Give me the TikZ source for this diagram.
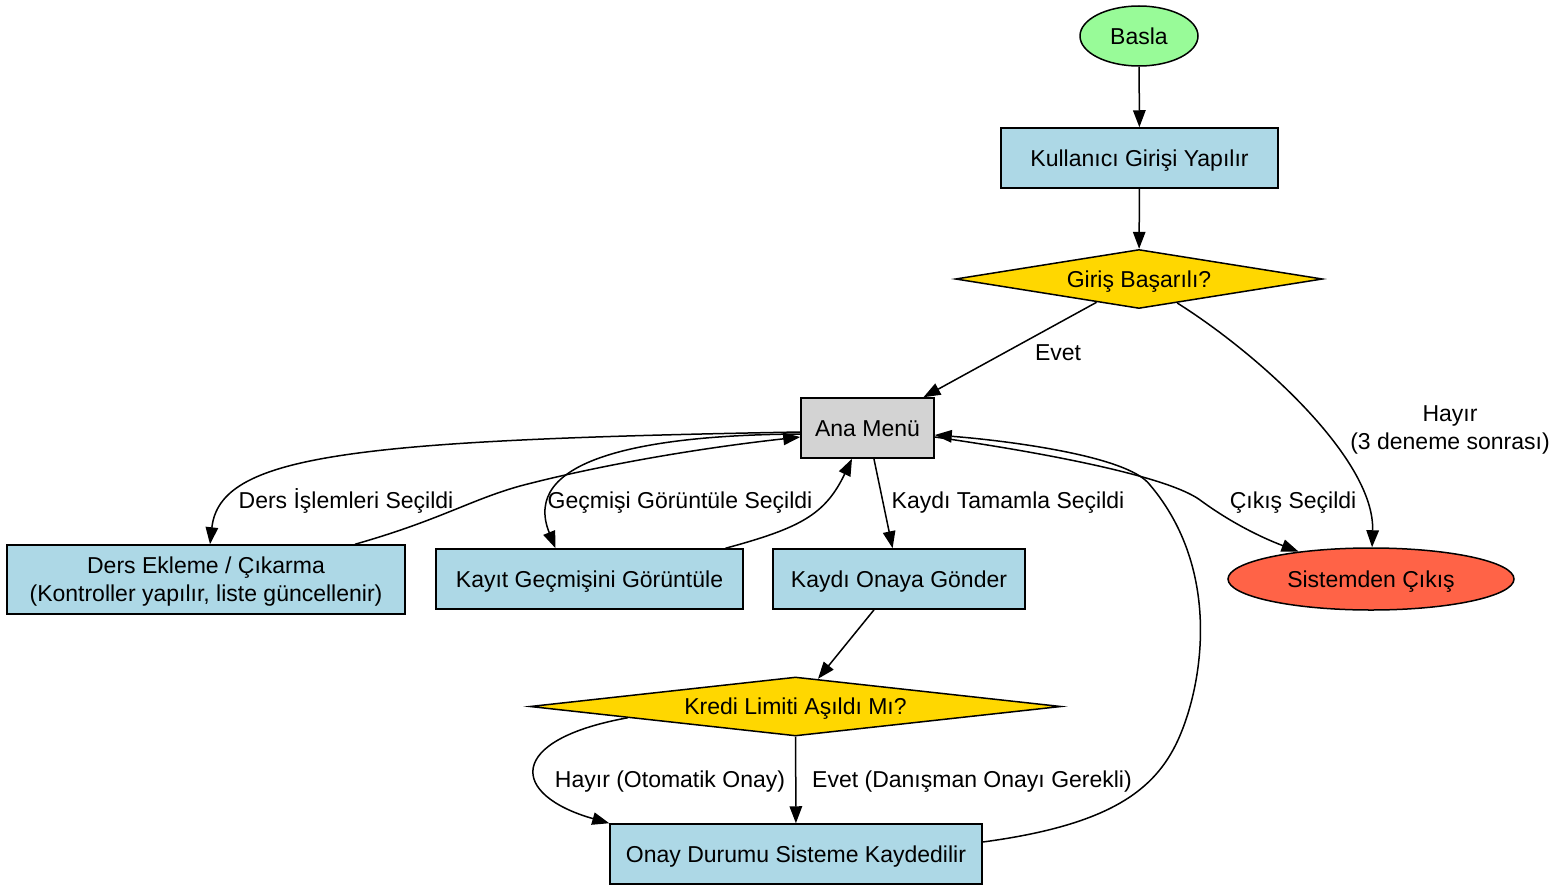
\documentclass[tikz,border=0pt]{standalone}
\usepackage{fontspec}
\setmainfont{Liberation Sans}
\usetikzlibrary{shapes.geometric,arrows.meta}
\definecolor{boxblue}{HTML}{ADD8E6}
\definecolor{startgreen}{HTML}{98FB98}
\definecolor{decgold}{HTML}{FFD700}
\definecolor{menugray}{HTML}{D3D3D3}
\definecolor{exitred}{HTML}{FF6347}
\begin{document}
\begin{tikzpicture}[x=1pt,y=-1pt,
  font=\fontsize{23}{28}\selectfont,
  base/.style={draw=black,line width=1.5pt,inner sep=0pt,align=center,text depth=0pt},
  oneline/.style={text height=16.5pt,text depth=0pt},
  procbox/.style={base,rectangle,fill=boxblue},
  decision/.style={base,diamond,fill=decgold},
  conn/.style={line width=1.5pt,-{Triangle[length=17pt,width=12.5pt]}},
  lbl/.style={inner sep=0pt,align=center,text depth=0pt}
]
\useasboundingbox (0,0) rectangle (1560,891);

% nodes
\node[base,oneline,ellipse,fill=startgreen,minimum width=118pt,minimum height=60pt] (basla) at (1139,36) {Basla};
\node[procbox,oneline,minimum width=277pt,minimum height=60pt] (giris) at (1139.5,158) {Kullanıcı Girişi Yapılır};
\node[decision,oneline,aspect=6.2,minimum width=367pt,minimum height=59pt] (basari) at (1139,279) {Giriş Başarılı?};
\node[base,oneline,rectangle,fill=menugray,minimum width=133pt,minimum height=60pt] (menu) at (867.5,428) {Ana Menü};
\node[procbox,minimum width=398pt,minimum height=69pt] (ders) at (206,579.5) {Ders Ekleme / Çıkarma\\(Kontroller yapılır, liste güncellenir)};
\node[procbox,oneline,minimum width=307pt,minimum height=60pt] (gecmis) at (589.5,579) {Kayıt Geçmişini Görüntüle};
\node[procbox,oneline,minimum width=252pt,minimum height=60pt] (onaya) at (899,579) {Kaydı Onaya Gönder};
\node[base,oneline,ellipse,fill=exitred,minimum width=286pt,minimum height=62pt] (cikis) at (1371,579) {Sistemden Çıkış};
\node[decision,oneline,aspect=9,minimum width=531pt,minimum height=59pt] (kredi) at (795.5,706.5) {Kredi Limiti Aşıldı Mı?};
\node[procbox,oneline,minimum width=372pt,minimum height=60pt] (kayit) at (796,854) {Onay Durumu Sisteme Kaydedilir};

% connectors
\draw[conn] (basla) -- (giris);
\draw[conn] (giris) -- (basari);
\draw[conn] (basari) -- (menu);
\draw[conn] (basari) .. controls (1260,355) and (1375,460) .. (cikis);
\draw[conn] ([yshift=-4pt]menu.west) .. controls (350,440) and (220,455) .. ([xshift=4pt]ders.north);
\draw[conn] ([xshift=149pt]ders.north) .. controls (440,520) and (470,500) .. (520,486)
  .. controls (600,465) and (700,448) .. ([yshift=-9pt]menu.west);
\draw[conn] ([yshift=-6pt]menu.west) .. controls (640,435) and (520,460) .. ([xshift=-34pt]gecmis.north);
\draw[conn] ([xshift=136pt]gecmis.north) .. controls (800,528) and (825,515) .. ([xshift=-15.5pt]menu.south);
\draw[conn] (menu) -- (onaya);
\draw[conn] (onaya) -- (kredi);
\draw[conn] ([xshift=-34.75pt,yshift=3.85pt]kredi.south west) .. controls (505,740) and (510,795) .. (kayit.north west);
\draw[conn] (kredi) -- (kayit);
\draw[conn] ([yshift=12pt]kayit.east) .. controls (1110,825) and (1155,790) .. (1178,740)
  .. controls (1203,685) and (1222,570) .. (1150,485)
  .. controls (1128,455) and (1000,440) .. ([yshift=-7pt]menu.east);
\draw[conn] ([yshift=-9pt]menu.east) .. controls (1060,455) and (1170,478) .. (1200,500)
  .. controls (1230,522) and (1260,537) .. (cikis);

% labels
\node[lbl,oneline] (levet) at (1058,352) {Evet};
\node[lbl] (lhayir) at (1450,428) {Hayır\\(3 deneme sonrası)};
\node[lbl,oneline] (lders) at (346,500) {Ders İşlemleri Seçildi};
\node[lbl,oneline] (lgecmis) at (680,500) {Geçmişi Görüntüle Seçildi};
\node[lbl,oneline] (ltamam) at (1008,500) {Kaydı Tamamla Seçildi};
\node[lbl,oneline] (lcikis) at (1293,500) {Çıkış Seçildi};
\node[lbl,oneline] (lotomatik) at (670,779) {Hayır (Otomatik Onay)};
\node[lbl,oneline] (ldanisman) at (972,779) {Evet (Danışman Onayı Gerekli)};
\end{tikzpicture}
\end{document}
